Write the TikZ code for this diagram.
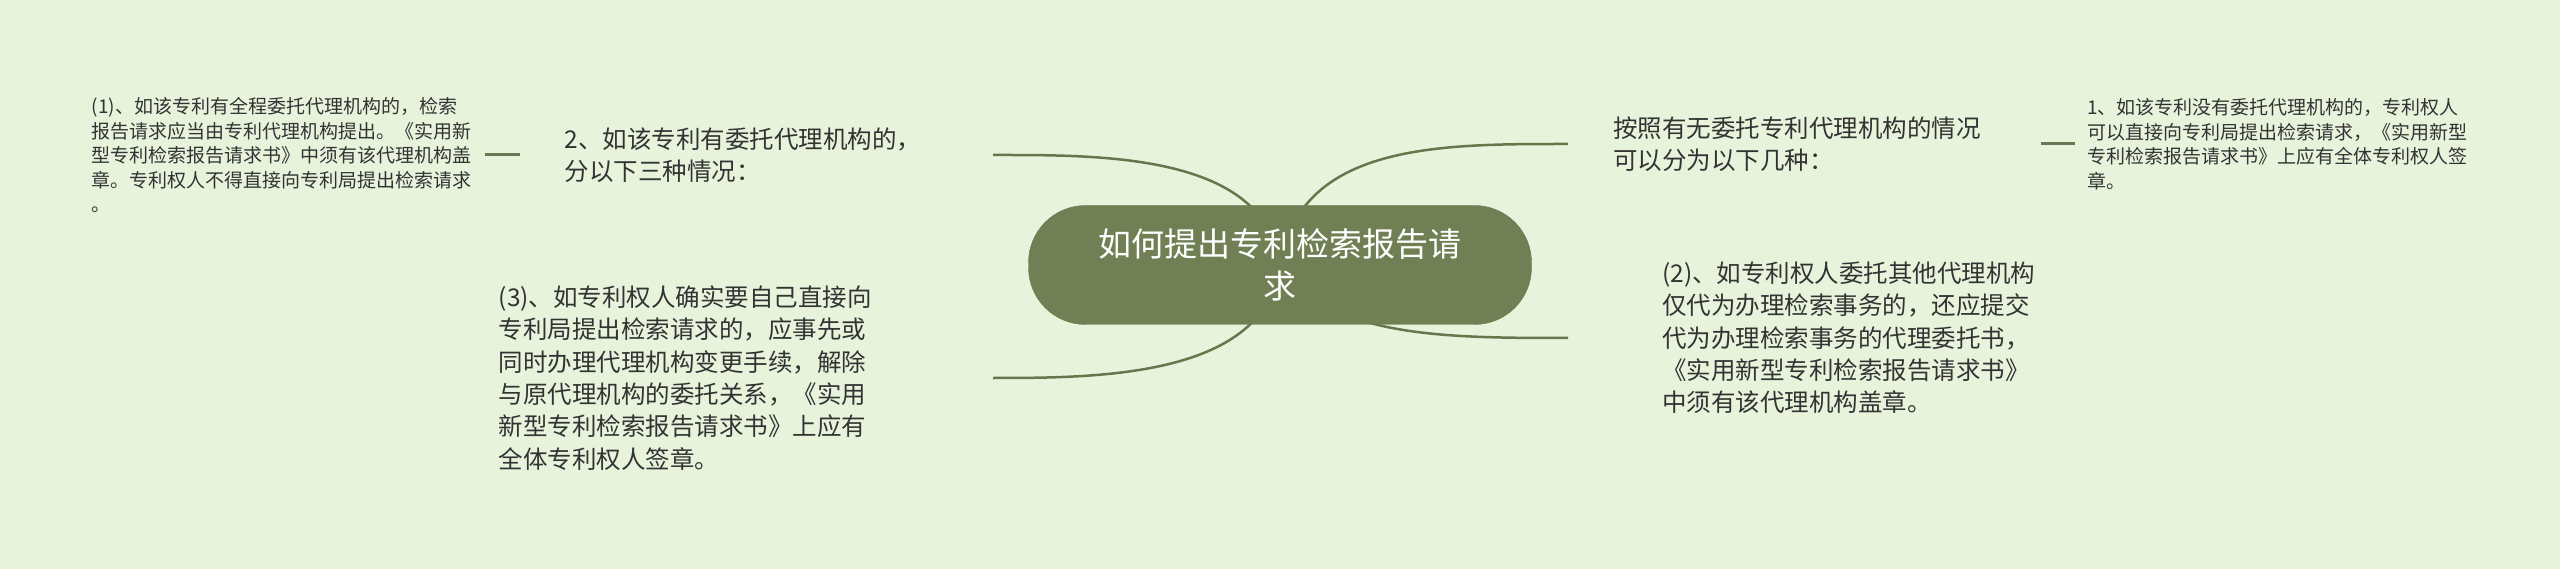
\documentclass[tikz,border=0pt]{standalone}
\usepackage{fontspec}
\newfontfamily\cjk{Noto Sans CJK SC}
\usetikzlibrary{backgrounds}
\definecolor{paper}{RGB}{232,243,220}
\definecolor{moss}{RGB}{113,128,84}
\definecolor{mossline}{RGB}{104,118,76}
\definecolor{ink}{RGB}{51,51,51}
\begin{document}
\begin{tikzpicture}[x=1pt,y=-1pt]
		\tikzset{title/.style = {shape=rectangle,draw=mossline,fill=moss,text=white,rounded corners=57pt,minimum width=503pt,minimum height=119pt,align=center,font=\cjk\fontsize{33pt}{42pt}\selectfont}}
		\tikzset{branch/.style = {shape=rectangle,inner xsep=45pt,inner ysep=0pt,align=left,text=ink,font=\cjk\fontsize{24.5pt}{32.3pt}\selectfont}}
		\tikzset{leaf/.style = {shape=rectangle,inner xsep=10pt,inner ysep=0pt,align=left,text=ink,font=\cjk\fontsize{19pt}{24.5pt}\selectfont}}
		\tikzset{link/.style = {draw=mossline,line width=2.5pt}}
		\tikzset{stub/.style = {draw=mossline!85!gray,line width=3pt}}
		\useasboundingbox (0,0) rectangle (2560,569);
		\node[title] (howto) at (1280,265) {如何提出专利检索报告请\\求};
		\node[branch,text width=383pt,anchor=east] (hasagent) at (993,155) {2、如该专利有委托代理机构的，\\分以下三种情况：};
		\node[leaf,text width=383pt,anchor=east] (fullagent) at (485,155) {(1)、如该专利有全程委托代理机构的，检索\\报告请求应当由专利代理机构提出。《实用新\\型专利检索报告请求书》中须有该代理机构盖\\章。专利权人不得直接向专利局提出检索请求\\。};
		\node[branch,text width=449pt,anchor=east] (selffile) at (993,378) {(3)、如专利权人确实要自己直接向\\专利局提出检索请求的，应事先或\\同时办理代理机构变更手续，解除\\与原代理机构的委托关系，《实用\\新型专利检索报告请求书》上应有\\全体专利权人签章。};
		\node[branch,text width=383pt,anchor=west] (cases) at (1568,144) {按照有无委托专利代理机构的情况\\可以分为以下几种：};
		\node[leaf,text width=390pt,inner xsep=12pt,anchor=west] (noagent) at (2075,144) {1、如该专利没有委托代理机构的，专利权人\\可以直接向专利局提出检索请求，《实用新型\\专利检索报告请求书》上应有全体专利权人签\\章。};
		\node[branch,text width=400pt,inner xsep=94pt,anchor=west] (otheragent) at (1568,338) {(2)、如专利权人委托其他代理机构\\仅代为办理检索事务的，还应提交\\代为办理检索事务的代理委托书，\\《实用新型专利检索报告请求书》\\中须有该代理机构盖章。};
		\path[stub] (fullagent.east) -- (hasagent.west);
		\path[stub] (cases.east) -- (noagent.west);
		\begin{pgfonlayer}{background}
			\fill[paper] (0,0) rectangle (2560,569);
			\path[link] (howto.center) .. controls +(-15,-112) and +(108,0) .. (hasagent.east);
			\path[link] (howto.center) .. controls +(-15,112) and +(107,0) .. (selffile.east);
			\path[link] (howto.center) .. controls +(20,-122) and +(-128,0) .. (cases.west);
			\path[link] (howto.center) .. controls +(50,72) and +(-128,0) .. (otheragent.west);
		\end{pgfonlayer}
	\end{tikzpicture}
\end{document}
